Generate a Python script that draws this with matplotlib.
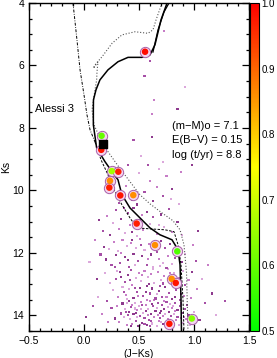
import numpy as np
import matplotlib
matplotlib.use('Agg')
import matplotlib.pyplot as plt
from matplotlib.colors import LinearSegmentedColormap, Normalize
from matplotlib.cm import ScalarMappable
from matplotlib.ticker import MultipleLocator

plt.rcParams['font.family'] = ['Liberation Sans', 'DejaVu Sans']

# best fit isochrone (solid)
iso_x = [0.755, 0.700, 0.645, 0.600, 0.527, 0.400, 0.309, 0.218, 0.145, 0.109, 0.086,
         0.085, 0.085, 0.115, 0.191, 0.255, 0.309, 0.345, 0.418, 0.509, 0.600, 0.691,
         0.800, 0.855, 0.873, 0.882, 0.886]
iso_y = [4.00, 4.54, 5.34, 5.66, 5.74, 5.74, 5.88, 6.14, 6.46, 6.78, 7.10,
         7.42, 7.90, 8.64, 9.08, 9.40, 9.66, 10.14, 10.56, 10.88, 11.20, 11.42,
         11.58, 11.90, 12.38, 13.50, 14.49]
rgb_x = [0.627, 0.673, 0.727, 0.773]
rgb_y = [5.57, 4.86, 4.29, 4.00]

# younger isochrone (dotted)
young_x = [0.709, 0.655, 0.627, 0.582, 0.464, 0.345, 0.255, 0.164, 0.100, 0.085, 0.127,
           0.118, 0.115, 0.100, 0.073, 0.091, 0.145, 0.218, 0.309, 0.418, 0.509, 0.600,
           0.709, 0.809, 0.873, 0.909, 0.932, 0.945]
young_y = [4.00, 4.54, 4.86, 4.97, 4.92, 5.02, 5.29, 5.72, 5.98, 6.09, 5.89,
           6.21, 6.46, 6.78, 7.42, 7.90, 8.32, 8.76, 9.21, 9.72, 10.14, 10.43,
           10.72, 10.97, 11.26, 11.74, 12.63, 14.49]

# older isochrone (dash-dot upper, dashed lower)
old_top_x = [-0.100, -0.064, -0.036, 0.000, 0.027, 0.055, 0.100]
old_top_y = [4.00, 5.18, 6.14, 6.94, 7.58, 8.06, 8.45]
old_low_x = [0.100, 0.155, 0.218, 0.273, 0.345, 0.418, 0.482, 0.600, 0.736, 0.818,
             0.855, 0.882, 0.900, 0.909]
old_low_y = [8.45, 9.02, 9.50, 9.98, 10.46, 10.88, 11.20, 11.23, 11.26, 11.32,
             11.74, 12.38, 13.50, 14.49]

# field stars (J-Ks, Ks)
field = [
    (0.32, 14.21), (0.35, 13.62), (0.36, 14.05), (0.38, 13.88), (0.39, 14.31), (0.41, 13.55),
    (0.42, 14.12), (0.43, 13.74), (0.44, 14.27), (0.45, 13.96), (0.46, 13.61), (0.47, 14.18),
    (0.48, 13.83), (0.49, 14.34), (0.50, 13.70), (0.51, 14.02), (0.52, 13.58), (0.53, 14.23),
    (0.54, 13.91), (0.55, 14.09), (0.56, 13.66), (0.57, 14.30), (0.58, 13.79), (0.59, 14.14),
    (0.60, 13.53), (0.61, 13.97), (0.62, 14.26), (0.63, 13.71), (0.64, 14.06), (0.65, 13.86),
    (0.66, 14.33), (0.67, 13.60), (0.68, 14.17), (0.69, 13.93), (0.70, 14.22), (0.71, 13.68),
    (0.72, 14.01), (0.73, 13.81), (0.74, 14.29), (0.75, 13.57), (0.76, 14.11), (0.77, 13.89),
    (0.78, 13.64), (0.79, 14.03), (0.80, 13.76), (0.81, 14.20), (0.82, 13.95), (0.83, 13.59),
    (0.84, 14.15), (0.85, 13.84), (0.86, 14.32), (0.87, 13.69), (0.88, 14.07), (0.89, 13.92),
    (0.90, 14.25), (0.92, 13.80), (0.93, 14.13), (0.95, 13.98),
    (0.37, 13.79), (0.40, 14.00), (0.44, 13.66), (0.47, 13.93), (0.52, 13.81), (0.55, 14.28),
    (0.58, 13.99), (0.62, 13.63), (0.66, 13.75), (0.69, 14.08), (0.73, 13.55), (0.77, 14.24),
    (0.81, 13.70), (0.85, 14.04), (0.88, 13.62), (0.43, 14.35), (0.51, 14.30), (0.60, 14.33),
    (0.64, 13.52), (0.70, 13.85), (0.74, 13.97), (0.79, 14.31), (0.83, 13.87), (0.56, 13.86),
    (0.48, 14.05), (0.34, 13.94), (0.30, 13.70), (0.28, 14.10), (0.46, 13.78), (0.61, 14.19),
    (0.67, 13.98), (0.72, 14.27), (0.76, 13.73), (0.53, 13.67), (0.57, 13.52), (0.41, 13.90),
    (0.39, 13.60), (0.87, 13.50), (0.91, 14.05), (0.94, 13.66),
    (0.26, 13.20), (0.29, 12.85), (0.31, 13.41), (0.33, 12.62), (0.35, 13.08), (0.37, 12.94),
    (0.38, 13.35), (0.40, 12.71), (0.41, 13.17), (0.43, 12.55), (0.44, 13.02), (0.45, 13.44),
    (0.47, 12.80), (0.48, 13.26), (0.50, 12.64), (0.51, 13.11), (0.52, 12.90), (0.54, 13.38),
    (0.55, 12.58), (0.57, 13.05), (0.58, 12.77), (0.60, 13.30), (0.61, 12.68), (0.62, 13.14),
    (0.64, 12.97), (0.65, 13.46), (0.67, 12.60), (0.68, 13.22), (0.70, 12.86), (0.71, 13.40),
    (0.73, 12.73), (0.74, 13.09), (0.76, 12.52), (0.77, 13.28), (0.79, 12.92), (0.80, 13.48),
    (0.82, 12.66), (0.84, 13.19), (0.86, 12.81), (0.88, 13.33), (0.90, 12.59), (0.92, 13.04),
    (0.95, 12.88), (0.34, 12.78), (0.39, 13.48), (0.46, 13.13), (0.53, 12.70), (0.59, 12.99),
    (0.66, 13.32), (0.72, 12.98), (0.78, 12.64), (0.83, 13.42), (0.87, 12.99), (0.42, 12.88),
    (0.49, 13.37), (0.56, 13.24), (0.63, 12.53), (0.69, 13.06), (0.75, 13.41), (0.81, 13.03),
    (0.30, 12.58), (0.36, 13.25), (0.91, 13.37),
    (0.20, 12.21), (0.23, 11.87), (0.25, 12.40), (0.27, 11.65), (0.29, 12.08), (0.31, 11.93),
    (0.33, 12.33), (0.35, 11.58), (0.37, 12.14), (0.39, 11.79), (0.41, 12.46), (0.43, 11.68),
    (0.45, 12.02), (0.47, 11.85), (0.49, 12.27), (0.51, 11.54), (0.53, 12.11), (0.55, 11.90),
    (0.57, 12.38), (0.59, 11.72), (0.61, 12.05), (0.63, 12.44), (0.66, 11.97), (0.68, 12.19),
    (0.70, 11.63), (0.72, 12.31), (0.74, 11.83), (0.76, 12.09), (0.78, 11.70), (0.80, 12.36),
    (0.83, 12.15), (0.86, 11.92), (0.89, 12.28), (0.92, 12.02), (0.28, 12.45), (0.34, 12.00),
    (0.40, 12.22), (0.46, 12.40), (0.52, 11.76), (0.58, 12.20), (0.64, 11.66), (0.69, 12.42),
    (0.75, 12.48), (0.82, 11.88), (0.44, 11.60), (0.62, 11.82),
    (0.17, 11.30), (0.21, 10.82), (0.24, 11.42), (0.26, 11.05), (0.29, 10.64), (0.32, 11.22),
    (0.34, 10.90), (0.37, 11.37), (0.40, 10.72), (0.42, 11.12), (0.45, 10.56), (0.48, 11.46),
    (0.51, 10.96), (0.54, 11.28), (0.57, 10.68), (0.60, 11.08), (0.63, 10.85), (0.66, 11.40),
    (0.70, 10.77), (0.73, 11.18), (0.77, 10.60), (0.80, 11.33), (0.85, 11.02), (0.89, 11.44),
    (0.36, 10.55), (0.53, 10.80), (0.44, 11.34), (0.68, 11.10),
    (0.32, 10.40), (0.38, 9.85), (0.44, 10.30), (0.50, 9.45), (0.55, 10.05), (0.60, 9.70),
    (0.63, 10.35), (0.68, 9.30), (0.72, 10.18), (0.75, 9.55), (0.80, 9.95), (0.86, 10.42),
    (0.58, 9.18), (0.66, 9.88), (0.48, 10.45), (0.79, 10.28),
    (0.45, 8.40), (0.62, 7.55), (0.62, 8.30), (0.72, 9.10), (0.55, 6.35), (0.64, 7.10),
    (0.85, 7.40), (0.92, 6.70), (0.60, 5.85), (0.73, 4.90), (0.98, 9.20), (0.52, 8.90),
    (0.40, 9.20), (0.88, 9.40),
    (0.02, 14.05), (0.05, 12.30), (0.08, 13.70), (0.10, 11.60), (0.12, 12.85), (0.13, 13.40),
    (0.15, 12.05), (0.16, 13.95), (0.18, 11.80), (0.19, 12.65), (0.21, 13.55), (0.22, 14.20),
    (0.14, 10.95), (0.24, 12.95), (0.25, 13.75),
    (0.97, 13.45), (0.98, 12.60), (1.00, 13.90), (1.02, 12.25), (1.03, 13.15), (1.05, 14.15),
    (1.07, 12.85), (1.10, 13.60), (1.13, 12.40), (1.16, 13.30), (1.20, 14.00), (1.28, 13.55),
    (0.99, 11.75), (1.04, 11.30), (0.96, 14.30),
]

# cluster members with membership probability
mem_x = [0.555, 0.160, 0.157, 0.252, 0.312, 0.236, 0.230, 0.330, 0.448, 0.479,
         0.645, 0.848, 0.797, 0.834, 0.980, 0.776]
mem_y = [5.56, 8.25, 8.70, 9.38, 9.40, 9.69, 9.91, 10.16, 10.15, 11.06,
         11.75, 11.95, 12.83, 12.96, 14.10, 14.27]
mem_p = [0.99, 0.60, 0.98, 0.66, 0.97, 0.86, 0.97, 0.98, 0.86, 0.97,
         0.86, 0.58, 0.86, 0.98, 0.63, 0.98]

# special star (black square)
sq_x = [0.170]
sq_y = [8.51]

fig = plt.figure(figsize=(2.77, 3.58), dpi=100)
ax = fig.add_axes([0.1047, 0.0754, 0.7942, 0.9162])

fx = [p[0] for p in field]
fy = [p[1] for p in field]
shades = ['#c77dc7', '#8e3a8e', '#dca8dc', '#a64fa6']
fc = [shades[i % 4] for i in range(len(fx))]
ax.scatter(fx, fy, s=2.2, c=fc, marker='s', linewidths=0, zorder=1)

ax.plot(young_x, young_y, ls=':', color='#555555', lw=0.8, zorder=2)
ax.plot(old_top_x, old_top_y, ls='-.', color='black', lw=0.7, dashes=(3, 1.5, 0.8, 1.5), zorder=2)
ax.plot(old_low_x, old_low_y, ls='--', color='black', lw=0.7, dashes=(2.5, 1.5), zorder=2)
ax.plot(iso_x, iso_y, '-', color='black', lw=1.1, zorder=3)
ax.plot(rgb_x, rgb_y, '-', color='black', lw=0.9, zorder=3)

cmap = LinearSegmentedColormap.from_list('memb', [(0.0, '#00ff00'), (0.5, '#ffff00'), (1.0, '#ff0000')])
norm = Normalize(0.5, 1.0)

ax.scatter(mem_x, mem_y, s=55, facecolor='#f4d4f0', edgecolor='#a860a8', linewidths=0.7, zorder=4)
ax.scatter(mem_x, mem_y, s=22, c=mem_p, cmap=cmap, norm=norm, linewidths=0, zorder=5)
ax.scatter(sq_x, sq_y, s=26, marker='s', color='black', zorder=6)

ax.text(-0.45, 7.39, 'Alessi 3', fontsize=8, va='center', ha='left')
ax.text(0.80, 7.93, '(m\u2212M)o = 7.1', fontsize=8, va='center', ha='left')
ax.text(0.80, 8.37, 'E(B\u2212V) = 0.15', fontsize=8, va='center', ha='left')
ax.text(0.80, 8.86, 'log (t/yr) = 8.8', fontsize=8, va='center', ha='left')

ax.set_xlim(-0.5, 1.5)
ax.set_ylim(14.5, 4)
ax.xaxis.set_major_locator(MultipleLocator(0.5))
ax.xaxis.set_minor_locator(MultipleLocator(0.1))
ax.yaxis.set_major_locator(MultipleLocator(2))
ax.yaxis.set_minor_locator(MultipleLocator(0.5))
ax.tick_params(which='both', direction='in', top=True, right=True, labelsize=7.5, width=0.9)
ax.tick_params(which='major', length=5)
ax.tick_params(which='minor', length=2.5)
ax.set_xticks([-0.5, 0.0, 0.5, 1.0, 1.5])
ax.set_xticklabels(['\u22120.5', '0.0', '0.5', '1.0', '1.5'])
for s in ax.spines.values():
    s.set_linewidth(1.0)
ax.set_xlabel('(J\u2212Ks)', fontsize=7.5, labelpad=2)
ax.set_ylabel('Ks', fontsize=7.5, labelpad=1)

cax = fig.add_axes([0.901, 0.0754, 0.035, 0.9162])
cb = fig.colorbar(ScalarMappable(norm=norm, cmap=cmap), cax=cax)
cb.set_ticks([0.5, 0.6, 0.7, 0.8, 0.9, 1.0])
cb.ax.tick_params(length=0, labelsize=7, pad=1.5)
cb.outline.set_linewidth(0.8)

fig.savefig('out.png', dpi=100)
